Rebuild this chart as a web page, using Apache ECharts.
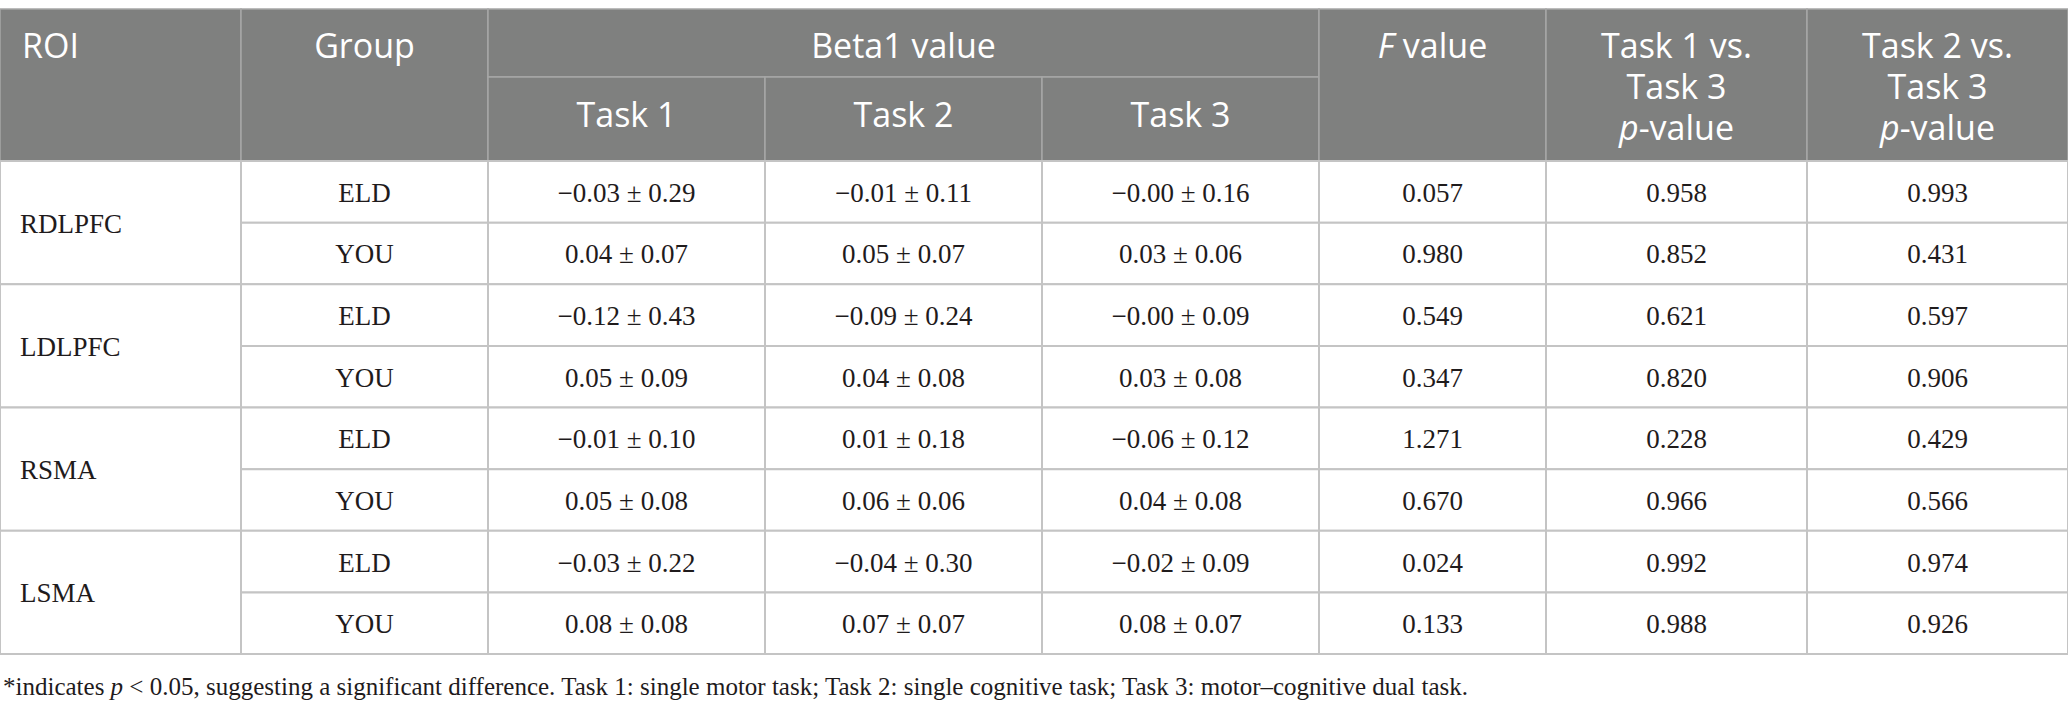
<!DOCTYPE html>
<html>
<head>
<meta charset="utf-8">
<title>Beta1 value table</title>
<script src="https://cdn.jsdelivr.net/npm/echarts@6.0.0/dist/echarts.min.js"></script>
<style>
  html, body { margin: 0; padding: 0; background: #fff; }
  #main { width: 2068px; height: 713px; }
</style>
</head>
<body>
<div id="main"></div>
<script>
// table values
const rois = ['RDLPFC', 'LDLPFC', 'RSMA', 'LSMA'];
const groups = ['ELD', 'YOU'];
const task1Mean = [-0.03, 0.04, -0.12, 0.05, -0.01, 0.05, -0.03, 0.08];
const task1Sd   = [0.29, 0.07, 0.43, 0.09, 0.10, 0.08, 0.22, 0.08];
const task2Mean = [-0.01, 0.05, -0.09, 0.04, 0.01, 0.06, -0.04, 0.07];
const task2Sd   = [0.11, 0.07, 0.24, 0.08, 0.18, 0.06, 0.30, 0.07];
const task3Mean = [-0, 0.03, -0, 0.03, -0.06, 0.04, -0.02, 0.08];
const task3Sd   = [0.16, 0.06, 0.09, 0.08, 0.12, 0.08, 0.09, 0.07];
const fValue    = [0.057, 0.980, 0.549, 0.347, 1.271, 0.670, 0.024, 0.133];
const p13       = [0.958, 0.852, 0.621, 0.820, 0.228, 0.966, 0.992, 0.988];
const p23       = [0.993, 0.431, 0.597, 0.906, 0.429, 0.566, 0.974, 0.926];

// header labels
const headTop = ['ROI', 'Group', 'Beta1 value', '{i|F} value', 'Task 1 vs.\nTask 3\n{i|p}-value', 'Task 2 vs.\nTask 3\n{i|p}-value'];
const headSub = ['Task 1', 'Task 2', 'Task 3'];
const footnote = '*indicates {i|p} < 0.05, suggesting a significant difference. Task 1: single motor task; Task 2: single cognitive task; Task 3: motor\u2013cognitive dual task.';

// layout (px)
const colEdges = [0, 241, 488, 765, 1042, 1319, 1546, 1807, 2068];
const headRows = [0, 68, 152];
const headLine1 = 36, headSubLine = 105, headLineGap = 41;

const headFill = '#7f807f', headStroke = '#a6a6a6', bodyStroke = '#c4c4c4';
const headFont = '34px "Open Sans"';
const bodyFont = '27px "Liberation Serif"';
const bodyColor = '#1f1b1c';

function fmt(v) {
  const neg = v < 0 || Object.is(v, -0);
  return (neg ? '\u2212' : '') + Math.abs(v).toFixed(2);
}
function ms(m, s) { return fmt(m) + ' \u00b1 ' + s.toFixed(2); }

// header cells: [col0, col1, row0, row1], text, align
const headCells = [
  { v: [0, 1, 0, 2], text: headTop[0], align: 'left', y: headLine1 },
  { v: [1, 2, 0, 2], text: headTop[1], y: headLine1 },
  { v: [2, 5, 0, 1], text: headTop[2], y: headLine1 },
  { v: [2, 3, 1, 2], text: headSub[0], y: headSubLine },
  { v: [3, 4, 1, 2], text: headSub[1], y: headSubLine },
  { v: [4, 5, 1, 2], text: headSub[2], y: headSubLine },
  { v: [5, 6, 0, 2], text: headTop[3], y: headLine1 },
  { v: [6, 7, 0, 2], text: headTop[4], y: headLine1 },
  { v: [7, 8, 0, 2], text: headTop[5], y: headLine1 }
];

// body cells
const rowKeys = [];
const bodyCells = [];
for (let i = 0; i < 8; i++) {
  rowKeys.push(rois[Math.floor(i / 2)] + ' ' + groups[i % 2]);
  if (i % 2 === 0) bodyCells.push({ c: 0, r: i, span: 2, text: rois[i / 2], align: 'left' });
  const vals = [groups[i % 2], ms(task1Mean[i], task1Sd[i]), ms(task2Mean[i], task2Sd[i]),
    ms(task3Mean[i], task3Sd[i]), fValue[i].toFixed(3), p13[i].toFixed(3), p23[i].toFixed(3)];
  vals.forEach((t, k) => bodyCells.push({ c: k + 1, r: i, span: 1, text: t }));
}

const chart = echarts.init(document.getElementById('main'), null, { renderer: 'svg' });

const option = {
  animation: false,
  title: {
    text: footnote,
    left: 3,
    top: 671,
    padding: 0,
    textStyle: {
      fontFamily: 'Liberation Serif', fontSize: 25, fontWeight: 'normal', color: bodyColor, lineHeight: 30,
      rich: { i: { fontFamily: 'Liberation Serif', fontSize: 25, fontStyle: 'italic', color: bodyColor, lineHeight: 30 } }
    }
  },
  grid: [
    { left: 0, right: 0, top: 9, height: 152 },
    { left: 0, right: 0, top: 161, height: 493 }
  ],
  xAxis: [
    { type: 'value', gridIndex: 0, min: 0, max: 2068, show: false },
    { type: 'value', gridIndex: 1, min: 0, max: 2068, show: false }
  ],
  yAxis: [
    { type: 'value', gridIndex: 0, min: 0, max: 152, inverse: true, show: false },
    { type: 'category', gridIndex: 1, data: rowKeys, inverse: true, show: false }
  ],
  series: [
    {
      type: 'custom',
      xAxisIndex: 0, yAxisIndex: 0,
      data: headCells.map(d => [colEdges[d.v[0]], colEdges[d.v[1]], headRows[d.v[2]], headRows[d.v[3]]]),
      renderItem: function (params, api) {
        const cell = headCells[params.dataIndex];
        const p0 = api.coord([api.value(0), api.value(2)]);
        const p1 = api.coord([api.value(1), api.value(3)]);
        const left = cell.align === 'left';
        const ty = api.coord([0, cell.y - headLineGap / 2])[1];
        return {
          type: 'group',
          children: [{
            type: 'rect',
            shape: { x: p0[0], y: p0[1], width: p1[0] - p0[0], height: p1[1] - p0[1] },
            style: { fill: headFill, stroke: headStroke, lineWidth: 1.5 }
          }, {
            type: 'text',
            style: {
              x: left ? p0[0] + 22 : (p0[0] + p1[0]) / 2, y: ty,
              text: cell.text, font: headFont, fill: '#fff', lineHeight: headLineGap,
              align: left ? 'left' : 'center', verticalAlign: 'top',
              rich: { i: { font: 'italic ' + headFont, fill: '#fff', lineHeight: headLineGap } }
            }
          }]
        };
      }
    },
    {
      type: 'custom',
      xAxisIndex: 1, yAxisIndex: 1,
      data: bodyCells.map(d => [colEdges[d.c], colEdges[d.c + 1], d.r, d.span]),
      renderItem: function (params, api) {
        const cell = bodyCells[params.dataIndex];
        const p0 = api.coord([api.value(0), api.value(2)]);
        const p1 = api.coord([api.value(1), api.value(2)]);
        const band = api.size([0, 1])[1];
        const top = p0[1] - band / 2;
        const h = band * api.value(3);
        const left = cell.align === 'left';
        return {
          type: 'group',
          children: [{
            type: 'rect',
            shape: { x: p0[0], y: top, width: p1[0] - p0[0], height: h },
            style: { fill: '#fff', stroke: bodyStroke, lineWidth: 2 }
          }, {
            type: 'text',
            style: {
              x: left ? p0[0] + 20 : (p0[0] + p1[0]) / 2, y: top + h / 2 + 1,
              text: cell.text, font: bodyFont, fill: bodyColor,
              align: left ? 'left' : 'center', verticalAlign: 'middle'
            }
          }]
        };
      }
    }
  ]
};

chart.setOption(option);
</script>
</body>
</html>
